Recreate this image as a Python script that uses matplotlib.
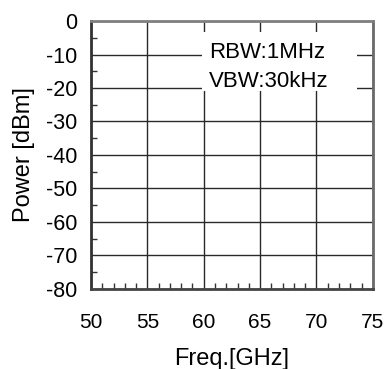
import matplotlib
matplotlib.use("Agg")
import matplotlib.pyplot as plt
from matplotlib.patches import Rectangle
from matplotlib.ticker import MultipleLocator


FREQ_TICKS = [50, 55, 60, 65, 70, 75]
POWER_TICKS = [0, -10, -20, -30, -40, -50, -60, -70, -80]
ANNOTATION = ["RBW:1MHz", "VBW:30kHz"]

plt.rcParams["font.family"] = ["Liberation Sans", "DejaVu Sans"]
plt.rcParams["axes.unicode_minus"] = False

fig = plt.figure(figsize=(3.84, 3.69), dpi=100)
ax = fig.add_axes([0.237, 0.217, 0.734, 0.726])

ax.set_xlim(FREQ_TICKS[0], FREQ_TICKS[-1])
ax.set_ylim(POWER_TICKS[-1], POWER_TICKS[0])
ax.set_xticks(FREQ_TICKS)
ax.set_yticks(POWER_TICKS)
ax.xaxis.set_minor_locator(MultipleLocator(1))
ax.yaxis.set_minor_locator(MultipleLocator(5))

ax.grid(True, which="major", color="#2a2a2a", linewidth=1.0)
ax.tick_params(axis="both", which="both", direction="in", top=False, right=False)
ax.tick_params(axis="x", which="major", length=0, pad=17, labelsize=15)
ax.tick_params(axis="y", which="major", length=0, pad=10, labelsize=15.5)
ax.tick_params(which="minor", length=4, width=1, color="#333333")

for side, color in [("left", "#333333"), ("bottom", "#444444"), ("top", "#808080"), ("right", "#6a6a6a")]:
    ax.spines[side].set_color(color)
    ax.spines[side].set_linewidth(2)

ax.set_xlabel("Freq.[GHz]", fontsize=17)
ax.set_ylabel("Power [dBm]", fontsize=17)
ax.xaxis.set_label_coords(0.5, -0.22)
ax.yaxis.set_label_coords(-0.198, 0.5)

# white patch behind the measurement settings
ax.add_patch(Rectangle((0.394, 0.739), 0.549, 0.22, transform=ax.transAxes,
                       facecolor="white", edgecolor="none", zorder=4))
for i, line in enumerate(ANNOTATION):
    ax.text(0.42, 0.862 - i * 0.108, line, transform=ax.transAxes,
            fontsize=16, ha="left", va="baseline", zorder=5)

fig.savefig("out.png", dpi=100)
